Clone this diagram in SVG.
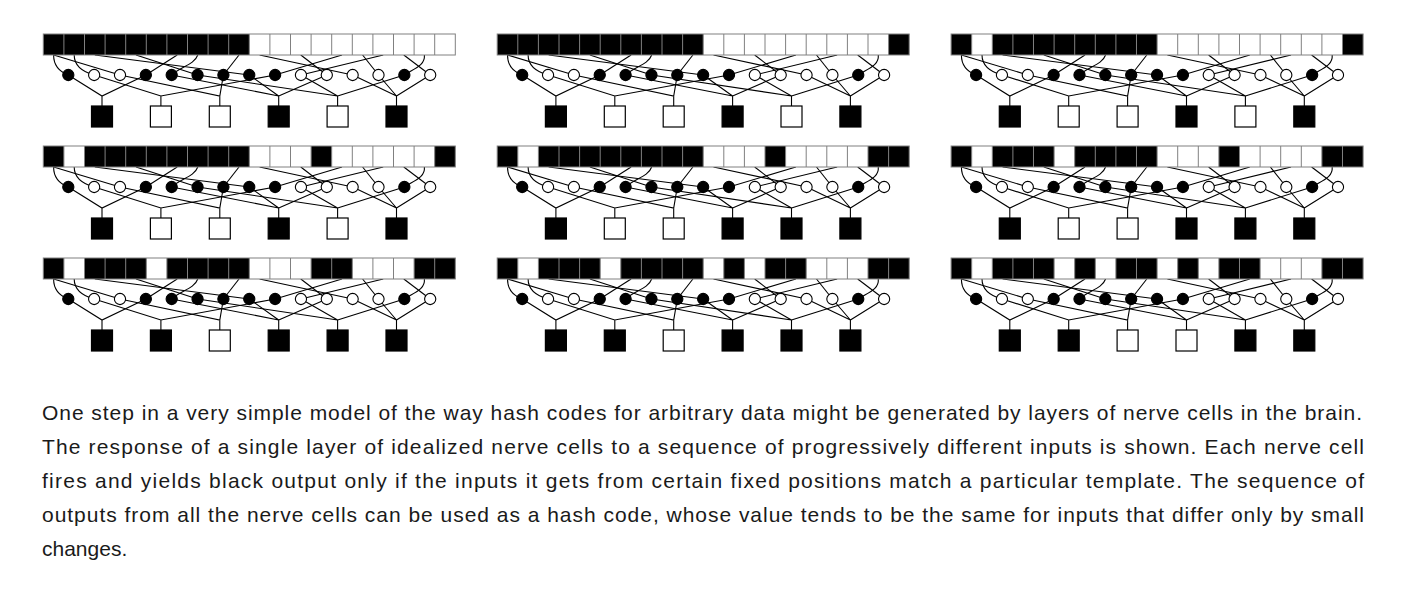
<svg xmlns="http://www.w3.org/2000/svg" xmlns:xlink="http://www.w3.org/1999/xlink" width="1414" height="604" viewBox="0 0 1414 604">
<style>
.w{fill:none;stroke:#000;stroke-width:1.1}
.g{fill:none;stroke:#808080;stroke-width:1}
.cb{fill:#000;stroke:#000;stroke-width:1.1}
.cw{fill:#fff;stroke:#000;stroke-width:1.1}
.ob{fill:#000;stroke:#000;stroke-width:1.2}
.ow{fill:#fff;stroke:#000;stroke-width:1.2}
.t{font-family:"Liberation Sans",Arial,sans-serif;font-size:21px;fill:#1a1a1a}
</style>
<defs>
<g id="wires">
<path class="w" d="M10.3,21 C10.3,32 17,38 25,41"/>
<path class="w" d="M30.9,21 C30.9,33 40,38 50.85,41"/>
<path class="w" d="M10.3,21 L76.7,41"/>
<path class="w" d="M133.9,21 L102.55,41"/>
<path class="w" d="M154.5,21 C151,31 136,33 128.4,41"/>
<path class="w" d="M92.7,21 L154.25,41"/>
<path class="w" d="M195.7,21 L180.1,41"/>
<path class="w" d="M51.5,21 L205.95,41"/>
<path class="w" d="M298.7,21 L231.8,41"/>
<path class="w" d="M339.9,21 L257.65,41"/>
<path class="w" d="M257.5,21 L283.5,41"/>
<path class="w" d="M216.3,21 L309.35,41"/>
<path class="w" d="M319.3,21 L335.2,41"/>
<path class="w" d="M381.1,21 C382,32 370,35 361.05,41"/>
<path class="w" d="M360.5,21 L386.9,41"/>
<path class="w" d="M25,41 L58.7,62 L102.55,41 M58.7,62 V72"/>
<path class="w" d="M50.85,41 L117.6,62 L231.8,41 M117.6,62 V72"/>
<path class="w" d="M76.7,41 L176.5,62 L180.1,41 M176.5,62 V72"/>
<path class="w" d="M128.4,41 L235.4,62 L205.95,41 M235.4,62 L283.5,41 M235.4,62 V72"/>
<path class="w" d="M154.25,41 L294.3,62 L257.65,41 M294.3,62 L361.05,41 M294.3,62 V72"/>
<path class="w" d="M309.35,41 L353.2,62 L335.2,41 M353.2,62 L386.9,41 M353.2,62 V72"/>
</g>
<g id="circles">
<circle class="cb" cx="25" cy="41" r="5.6"/>
<circle class="cw" cx="50.85" cy="41" r="5.6"/>
<circle class="cw" cx="76.7" cy="41" r="5.6"/>
<circle class="cb" cx="102.55" cy="41" r="5.6"/>
<circle class="cb" cx="128.4" cy="41" r="5.6"/>
<circle class="cb" cx="154.25" cy="41" r="5.6"/>
<circle class="cb" cx="180.1" cy="41" r="5.6"/>
<circle class="cb" cx="205.95" cy="41" r="5.6"/>
<circle class="cb" cx="231.8" cy="41" r="5.6"/>
<circle class="cw" cx="257.65" cy="41" r="5.6"/>
<circle class="cw" cx="283.5" cy="41" r="5.6"/>
<circle class="cw" cx="309.35" cy="41" r="5.6"/>
<circle class="cw" cx="335.2" cy="41" r="5.6"/>
<circle class="cb" cx="361.05" cy="41" r="5.6"/>
<circle class="cw" cx="386.9" cy="41" r="5.6"/>
</g>
<g id="grid">
<path class="g" d="M20.6,0V21M41.2,0V21M61.8,0V21M82.4,0V21M103,0V21M123.6,0V21M144.2,0V21M164.8,0V21M185.4,0V21M206,0V21M226.6,0V21M247.2,0V21M267.8,0V21M288.4,0V21M309,0V21M329.6,0V21M350.2,0V21M370.8,0V21M391.4,0V21"/>
<rect class="g" x="0" y="0" width="412" height="21"/>
</g>
<rect id="bg" x="0" y="0" width="412" height="21" fill="#fff"/>
</defs>

<g id="connectors">
<use xlink:href="#wires" transform="translate(43.3,34)"/>
<use xlink:href="#wires" transform="translate(497.2,34)"/>
<use xlink:href="#wires" transform="translate(951.1,34)"/>
<use xlink:href="#wires" transform="translate(43.3,146)"/>
<use xlink:href="#wires" transform="translate(497.2,146)"/>
<use xlink:href="#wires" transform="translate(951.1,146)"/>
<use xlink:href="#wires" transform="translate(43.3,258)"/>
<use xlink:href="#wires" transform="translate(497.2,258)"/>
<use xlink:href="#wires" transform="translate(951.1,258)"/>
</g>

<g id="panel1" transform="translate(43.3,34)">
<g id="p1-input"><use xlink:href="#bg"/><rect x="0" y="0" width="206" height="21"/><use xlink:href="#grid"/></g>
<g id="p1-cells"><use xlink:href="#circles"/></g>
<g id="p1-out"><rect class="ob" x="48.2" y="72" width="21" height="21"/><rect class="ow" x="107.1" y="72" width="21" height="21"/><rect class="ow" x="166" y="72" width="21" height="21"/><rect class="ob" x="224.9" y="72" width="21" height="21"/><rect class="ow" x="283.8" y="72" width="21" height="21"/><rect class="ob" x="342.7" y="72" width="21" height="21"/></g>
</g>

<g id="panel2" transform="translate(497.2,34)">
<g id="p2-input"><use xlink:href="#bg"/><rect x="0" y="0" width="206" height="21"/><rect x="391.4" y="0" width="20.6" height="21"/><use xlink:href="#grid"/></g>
<g id="p2-cells"><use xlink:href="#circles"/></g>
<g id="p2-out"><rect class="ob" x="48.2" y="72" width="21" height="21"/><rect class="ow" x="107.1" y="72" width="21" height="21"/><rect class="ow" x="166" y="72" width="21" height="21"/><rect class="ob" x="224.9" y="72" width="21" height="21"/><rect class="ow" x="283.8" y="72" width="21" height="21"/><rect class="ob" x="342.7" y="72" width="21" height="21"/></g>
</g>

<g id="panel3" transform="translate(951.1,34)">
<g id="p3-input"><use xlink:href="#bg"/><rect x="0" y="0" width="20.6" height="21"/><rect x="41.2" y="0" width="164.8" height="21"/><rect x="391.4" y="0" width="20.6" height="21"/><use xlink:href="#grid"/></g>
<g id="p3-cells"><use xlink:href="#circles"/></g>
<g id="p3-out"><rect class="ob" x="48.2" y="72" width="21" height="21"/><rect class="ow" x="107.1" y="72" width="21" height="21"/><rect class="ow" x="166" y="72" width="21" height="21"/><rect class="ob" x="224.9" y="72" width="21" height="21"/><rect class="ow" x="283.8" y="72" width="21" height="21"/><rect class="ob" x="342.7" y="72" width="21" height="21"/></g>
</g>

<g id="panel4" transform="translate(43.3,146)">
<g id="p4-input"><use xlink:href="#bg"/><rect x="0" y="0" width="20.6" height="21"/><rect x="41.2" y="0" width="164.8" height="21"/><rect x="267.8" y="0" width="20.6" height="21"/><rect x="391.4" y="0" width="20.6" height="21"/><use xlink:href="#grid"/></g>
<g id="p4-cells"><use xlink:href="#circles"/></g>
<g id="p4-out"><rect class="ob" x="48.2" y="72" width="21" height="21"/><rect class="ow" x="107.1" y="72" width="21" height="21"/><rect class="ow" x="166" y="72" width="21" height="21"/><rect class="ob" x="224.9" y="72" width="21" height="21"/><rect class="ow" x="283.8" y="72" width="21" height="21"/><rect class="ob" x="342.7" y="72" width="21" height="21"/></g>
</g>

<g id="panel5" transform="translate(497.2,146)">
<g id="p5-input"><use xlink:href="#bg"/><rect x="0" y="0" width="20.6" height="21"/><rect x="41.2" y="0" width="164.8" height="21"/><rect x="267.8" y="0" width="20.6" height="21"/><rect x="370.8" y="0" width="41.2" height="21"/><use xlink:href="#grid"/></g>
<g id="p5-cells"><use xlink:href="#circles"/></g>
<g id="p5-out"><rect class="ob" x="48.2" y="72" width="21" height="21"/><rect class="ow" x="107.1" y="72" width="21" height="21"/><rect class="ow" x="166" y="72" width="21" height="21"/><rect class="ob" x="224.9" y="72" width="21" height="21"/><rect class="ob" x="283.8" y="72" width="21" height="21"/><rect class="ob" x="342.7" y="72" width="21" height="21"/></g>
</g>

<g id="panel6" transform="translate(951.1,146)">
<g id="p6-input"><use xlink:href="#bg"/><rect x="0" y="0" width="20.6" height="21"/><rect x="41.2" y="0" width="61.8" height="21"/><rect x="123.6" y="0" width="82.4" height="21"/><rect x="267.8" y="0" width="20.6" height="21"/><rect x="370.8" y="0" width="41.2" height="21"/><use xlink:href="#grid"/></g>
<g id="p6-cells"><use xlink:href="#circles"/></g>
<g id="p6-out"><rect class="ob" x="48.2" y="72" width="21" height="21"/><rect class="ow" x="107.1" y="72" width="21" height="21"/><rect class="ow" x="166" y="72" width="21" height="21"/><rect class="ob" x="224.9" y="72" width="21" height="21"/><rect class="ob" x="283.8" y="72" width="21" height="21"/><rect class="ob" x="342.7" y="72" width="21" height="21"/></g>
</g>

<g id="panel7" transform="translate(43.3,258)">
<g id="p7-input"><use xlink:href="#bg"/><rect x="0" y="0" width="20.6" height="21"/><rect x="41.2" y="0" width="61.8" height="21"/><rect x="123.6" y="0" width="82.4" height="21"/><rect x="267.8" y="0" width="41.2" height="21"/><rect x="370.8" y="0" width="41.2" height="21"/><use xlink:href="#grid"/></g>
<g id="p7-cells"><use xlink:href="#circles"/></g>
<g id="p7-out"><rect class="ob" x="48.2" y="72" width="21" height="21"/><rect class="ob" x="107.1" y="72" width="21" height="21"/><rect class="ow" x="166" y="72" width="21" height="21"/><rect class="ob" x="224.9" y="72" width="21" height="21"/><rect class="ob" x="283.8" y="72" width="21" height="21"/><rect class="ob" x="342.7" y="72" width="21" height="21"/></g>
</g>

<g id="panel8" transform="translate(497.2,258)">
<g id="p8-input"><use xlink:href="#bg"/><rect x="0" y="0" width="20.6" height="21"/><rect x="41.2" y="0" width="61.8" height="21"/><rect x="123.6" y="0" width="82.4" height="21"/><rect x="226.6" y="0" width="20.6" height="21"/><rect x="267.8" y="0" width="41.2" height="21"/><rect x="370.8" y="0" width="41.2" height="21"/><use xlink:href="#grid"/></g>
<g id="p8-cells"><use xlink:href="#circles"/></g>
<g id="p8-out"><rect class="ob" x="48.2" y="72" width="21" height="21"/><rect class="ob" x="107.1" y="72" width="21" height="21"/><rect class="ow" x="166" y="72" width="21" height="21"/><rect class="ob" x="224.9" y="72" width="21" height="21"/><rect class="ob" x="283.8" y="72" width="21" height="21"/><rect class="ob" x="342.7" y="72" width="21" height="21"/></g>
</g>

<g id="panel9" transform="translate(951.1,258)">
<g id="p9-input"><use xlink:href="#bg"/><rect x="0" y="0" width="20.6" height="21"/><rect x="41.2" y="0" width="61.8" height="21"/><rect x="123.6" y="0" width="20.6" height="21"/><rect x="164.8" y="0" width="41.2" height="21"/><rect x="226.6" y="0" width="20.6" height="21"/><rect x="267.8" y="0" width="41.2" height="21"/><rect x="370.8" y="0" width="41.2" height="21"/><use xlink:href="#grid"/></g>
<g id="p9-cells"><use xlink:href="#circles"/></g>
<g id="p9-out"><rect class="ob" x="48.2" y="72" width="21" height="21"/><rect class="ob" x="107.1" y="72" width="21" height="21"/><rect class="ow" x="166" y="72" width="21" height="21"/><rect class="ow" x="224.9" y="72" width="21" height="21"/><rect class="ob" x="283.8" y="72" width="21" height="21"/><rect class="ob" x="342.7" y="72" width="21" height="21"/></g>
</g>

<g id="caption" class="t">
<text x="42" y="420" textLength="1320" lengthAdjust="spacing">One step in a very simple model of the way hash codes for arbitrary data might be generated by layers of nerve cells in the brain.</text>
<text x="42" y="454" textLength="1322" lengthAdjust="spacing">The response of a single layer of idealized nerve cells to a sequence of progressively different inputs is shown. Each nerve cell</text>
<text x="42" y="488" textLength="1322" lengthAdjust="spacing">fires and yields black output only if the inputs it gets from certain fixed positions match a particular template. The sequence of</text>
<text x="42" y="522" textLength="1322" lengthAdjust="spacing">outputs from all the nerve cells can be used as a hash code, whose value tends to be the same for inputs that differ only by small</text>
<text x="42" y="556">changes.</text>
</g>
</svg>
